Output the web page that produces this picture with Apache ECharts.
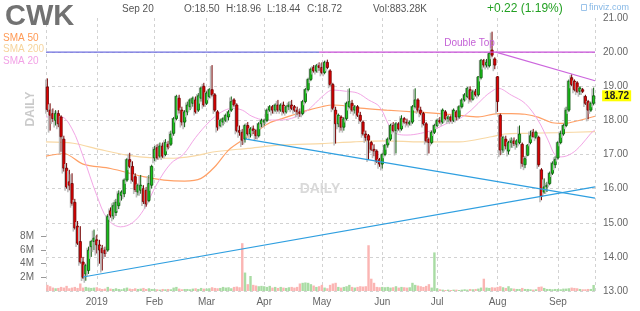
<!DOCTYPE html>
<html>
<head>
<meta charset="utf-8">
<script src="https://cdn.jsdelivr.net/npm/echarts@6/dist/echarts.min.js"></script>
<style>
  html, body { margin: 0; padding: 0; background: #ffffff; }
  #chart { width: 640px; height: 311px; }
</style>
</head>
<body>
<div id="chart"></div>
<script>
// Trading sessions, grouped by month: [year, month, days]
const sessions = [
  [2018, 12, [4,6,7,10,11,12,13,14,17,18,19,20,21,24,26,27,28,31]],
  [2019, 1, [2,3,4,7,8,9,10,11,14,15,16,17,18,22,23,24,25,28,29,30,31]],
  [2019, 2, [1,4,5,6,7,8,11,12,13,14,15,19,20,21,22,25,26,27,28]],
  [2019, 3, [1,4,5,6,7,8,11,12,13,14,15,18,19,20,21,22,25,26,27,28,29]],
  [2019, 4, [1,2,3,4,5,8,9,10,11,12,15,16,17,18,22,23,24,25,26,29,30]],
  [2019, 5, [1,2,3,6,7,8,9,10,13,14,15,16,17,20,21,22,23,24,28,29,30,31]],
  [2019, 6, [3,4,5,6,7,10,11,12,13,14,17,18,19,20,21,24,25,26,27,28]],
  [2019, 7, [1,2,3,5,8,9,10,11,12,15,16,17,18,19,22,23,24,25,26,29,30,31]],
  [2019, 8, [1,2,5,6,7,8,9,12,13,14,15,16,19,20,21,22,23,26,27,28,29,30]],
  [2019, 9, [3,4,5,6,9,10,11,12,13,16,17,18,19,20]]
];

const opens = [
  18.98,18.30,18.20,18.00,18.20,18.10,17.45,16.60,16.20,16.15,15.60,14.90,14.45,13.85,13.50,13.60,14.30,14.45,
  14.50,14.35,14.25,14.20,14.20,15.35,15.20,15.30,15.50,15.80,15.85,16.25,16.85,16.65,16.35,15.90,15.95,16.00,15.95,15.65,16.10,
  16.90,17.20,16.95,17.25,17.00,17.30,17.30,17.62,18.05,18.65,18.30,17.95,18.25,18.40,18.50,18.60,18.30,18.65,19.00,
  18.50,18.70,18.90,18.75,18.25,17.85,17.95,18.00,18.10,18.30,18.60,18.45,17.70,17.65,17.45,17.85,17.60,17.75,17.70,17.55,17.90,
  17.95,18.00,18.30,18.40,18.30,18.45,18.30,18.45,18.25,18.40,18.45,18.40,18.30,18.25,18.20,18.55,18.90,19.20,19.55,19.45,19.60,
  19.55,19.40,19.70,19.45,19.05,18.30,17.90,18.10,17.80,18.05,18.40,18.50,18.30,18.40,18.15,17.95,17.60,17.55,17.35,17.15,17.10,16.85,
  16.72,17.00,17.28,17.45,17.85,17.70,17.90,17.75,18.05,17.95,17.90,17.95,18.40,18.60,18.30,18.20,17.90,17.45,17.35,17.65,
  17.85,18.00,17.95,18.25,18.05,18.10,18.00,18.25,18.10,18.40,18.60,18.70,18.90,18.62,18.84,18.75,19.25,19.76,19.62,19.60,20.06,19.80,
  19.28,18.15,17.13,17.45,17.10,17.35,17.40,17.30,17.35,17.30,16.70,16.98,17.35,17.65,17.50,17.50,16.55,15.90,16.05,16.15,16.45,16.70,
  16.90,17.35,17.60,17.85,18.30,19.25,19.15,19.10,18.85,18.90,18.70,18.55,18.30,18.50
];
const highs = [
  19.23,18.50,18.35,18.30,18.30,18.15,17.55,16.75,16.55,16.45,15.70,15.05,14.90,14.00,13.80,14.30,14.50,14.80,
  14.65,14.50,14.35,14.30,15.25,15.45,15.60,15.70,15.95,15.95,16.30,16.90,17.05,16.80,16.45,16.15,16.40,16.10,16.05,16.40,16.70,
  17.25,17.30,17.35,17.35,17.45,17.40,17.70,18.10,18.75,18.75,18.40,18.30,18.55,18.65,18.70,18.70,18.80,19.00,19.10,
  18.85,18.95,19.62,18.80,18.30,18.05,18.10,18.20,18.30,18.70,18.65,18.50,17.85,17.75,17.90,17.95,17.80,17.85,17.75,17.95,18.05,
  18.05,18.35,18.45,18.45,18.50,18.60,18.50,18.55,18.45,18.55,18.60,18.45,18.40,18.35,18.60,18.95,19.25,19.55,19.62,19.65,19.70,
  19.70,19.75,19.78,19.50,19.10,18.40,18.20,18.15,18.10,18.55,18.94,18.60,18.45,18.45,18.25,18.00,17.70,17.60,17.40,17.30,17.15,16.90,
  17.05,17.30,17.50,17.90,17.95,17.95,17.95,18.15,18.10,18.05,18.00,18.45,18.94,18.65,18.40,18.25,17.95,17.50,17.70,17.90,
  18.05,18.10,18.35,18.30,18.15,18.15,18.35,18.30,18.45,18.65,18.80,18.98,19.00,18.90,18.92,19.30,19.80,19.80,19.80,20.00,20.60,19.85,
  19.30,18.20,17.55,17.55,17.40,17.50,17.50,17.45,17.85,17.35,16.95,17.30,17.70,17.75,17.70,17.55,16.60,16.30,16.20,16.50,16.80,16.95,
  17.40,17.70,17.90,18.40,19.20,19.35,19.20,19.15,19.00,18.95,18.75,18.60,18.55,18.96
];
const lows = [
  18.25,17.70,17.95,17.85,17.80,17.08,16.50,16.00,15.95,15.50,14.80,14.35,13.80,13.35,13.30,13.50,14.00,14.20,
  14.10,13.80,13.60,14.00,14.15,15.15,15.10,15.20,15.40,15.65,15.75,16.20,16.60,16.20,15.90,15.80,15.85,15.55,15.47,15.60,16.00,
  16.80,16.85,16.90,16.90,16.95,17.15,17.25,17.55,18.00,18.20,17.85,17.80,18.15,18.30,18.40,18.20,18.25,18.55,18.40,
  18.45,18.65,18.70,18.25,17.70,17.80,17.85,17.95,18.00,18.25,18.40,17.65,17.55,17.28,17.35,17.55,17.50,17.60,17.45,17.50,17.80,
  17.85,17.95,18.25,18.20,18.25,18.25,18.25,18.20,18.20,18.30,18.30,18.25,18.15,18.10,18.15,18.50,18.85,19.15,19.40,19.40,19.45,
  19.35,19.35,19.50,19.00,18.30,17.32,17.80,17.70,17.70,18.00,18.35,18.25,18.20,18.10,17.95,17.55,17.40,16.84,17.10,16.95,16.75,16.64,
  16.59,16.95,17.20,17.40,17.65,17.03,17.70,17.70,17.90,17.85,17.85,17.90,18.35,18.25,18.15,17.85,17.35,17.03,17.30,17.60,
  17.80,17.90,17.90,18.00,17.95,17.95,17.95,18.00,18.05,18.35,18.55,18.65,18.55,18.58,18.70,18.70,19.20,19.55,19.55,19.55,19.85,19.50,
  18.25,16.98,17.05,17.15,17.00,17.20,17.25,17.20,17.30,16.64,16.60,16.95,17.30,17.50,17.45,16.64,15.66,15.85,15.90,16.10,16.40,16.60,
  16.85,17.30,17.55,17.80,18.25,19.00,18.85,18.80,18.75,18.80,18.45,18.03,18.25,18.44
];
const closes = [
  18.32,18.15,18.05,18.20,17.90,17.52,16.60,16.05,16.10,15.57,14.85,14.40,13.85,13.40,13.75,14.20,14.45,14.55,
  14.35,14.20,14.12,14.10,15.18,15.22,15.50,15.60,15.85,15.90,16.25,16.85,16.65,16.25,15.97,16.10,16.10,15.62,15.55,16.15,16.65,
  17.15,16.90,17.25,16.95,17.35,17.22,17.60,18.05,18.70,18.30,17.95,18.25,18.45,18.60,18.65,18.25,18.72,18.95,18.45,
  18.80,18.90,18.75,18.30,17.80,18.00,18.05,18.15,18.25,18.55,18.45,17.70,17.65,17.42,17.85,17.60,17.75,17.70,17.55,17.90,18.00,
  18.00,18.30,18.40,18.30,18.45,18.30,18.45,18.25,18.40,18.45,18.35,18.30,18.25,18.20,18.55,18.90,19.20,19.50,19.45,19.60,19.55,
  19.40,19.70,19.55,19.05,18.35,17.90,18.15,17.80,18.05,18.50,18.55,18.30,18.40,18.15,18.00,17.60,17.50,17.42,17.15,17.10,16.80,16.72,
  17.00,17.28,17.45,17.85,17.70,17.90,17.75,18.05,17.95,17.92,17.95,18.40,18.60,18.30,18.20,17.90,17.40,17.35,17.65,17.85,
  18.00,17.95,18.30,18.05,18.10,18.00,18.30,18.10,18.40,18.60,18.75,18.94,18.62,18.84,18.75,19.28,19.76,19.62,19.70,19.96,19.91,19.62,
  18.55,17.13,17.50,17.25,17.35,17.40,17.32,17.40,17.60,16.74,16.88,17.28,17.55,17.52,17.65,16.70,15.78,16.05,16.10,16.45,16.74,16.85,
  17.35,17.62,17.85,18.30,19.15,19.05,18.90,18.85,18.95,18.85,18.50,18.30,18.50,18.72
];
// Daily volume, millions of shares
const volumes = [
  0.9,0.7,0.5,0.4,0.45,0.6,0.5,0.75,0.4,0.5,0.6,0.45,1.1,0.5,0.6,0.5,0.45,0.5,
  0.55,0.4,0.3,0.35,0.6,0.35,0.3,0.4,0.3,0.25,0.4,0.5,0.35,0.3,0.4,0.3,0.35,0.45,0.3,0.4,0.3,
  0.3,0.25,0.2,0.3,0.25,0.3,0.25,0.5,0.6,0.35,0.25,0.3,0.3,0.25,0.35,0.4,0.3,0.45,0.35,
  0.35,0.4,0.55,0.45,0.4,0.45,0.6,0.5,0.55,0.4,0.6,0.65,0.55,7.0,2.7,1.0,2.2,0.9,0.8,0.7,0.75,
  0.7,0.6,0.75,0.5,0.6,0.45,0.6,0.5,0.45,0.55,0.6,0.5,0.6,1.1,1.2,1.25,1.2,1.0,0.8,0.6,0.7,
  0.9,0.5,0.4,0.9,1.1,1.2,0.6,0.5,0.6,0.7,0.9,0.6,0.5,0.6,0.7,0.65,0.7,6.7,1.8,1.2,0.6,0.55,
  0.6,0.55,0.6,0.5,0.55,0.7,0.5,0.6,0.55,0.5,0.55,1.2,0.9,0.8,0.7,0.6,0.75,1.0,0.5,5.65,
  0.4,0.25,0.2,0.15,0.2,0.15,0.2,0.2,0.15,0.2,0.25,0.2,0.3,0.25,0.3,0.35,0.5,1.8,0.5,0.45,0.55,0.5,
  0.6,0.7,0.55,0.45,0.7,0.4,0.35,0.3,0.3,0.45,0.3,0.3,0.25,0.2,0.25,0.6,0.65,0.45,0.3,0.3,0.25,0.3,
  0.3,0.25,0.35,0.35,0.4,0.5,0.45,0.4,0.3,0.25,0.25,0.3,0.3,0.88328
];

// Moving averages as [session index, price]
const sma20 = [
  [-0.5,18.1],[5,18.1],[9,17.75],[13,16.95],[18,15.8],[22,15.1],[26.7,14.88],[31,15.0],[35,15.37],
  [40,16.15],[45,16.74],[49.5,17.0],[54,17.5],[59,17.96],[63.5,18.25],[67.3,18.35],[71,18.3],
  [74.5,18.12],[79.5,18.01],[84.5,18.01],[89,18.06],[94,18.25],[97.6,18.5],[100,18.69],[104,18.89],
  [109,18.85],[113,18.8],[117,18.6],[121,18.4],[126,17.67],[131,17.57],[136,17.62],[140.6,17.72],
  [145.5,17.91],[150.3,18.06],[154.4,18.3],[159.3,18.69],[161.7,18.84],[164.2,18.94],[169,18.74],
  [174,18.5],[178.7,18.01],[182.4,17.42],[185,16.98],[187.2,16.93],[191,17.03],[194.5,17.28],
  [198,17.62],[199.5,17.72]
];
const sma50 = [
  [-0.5,16.95],[6,17.03],[13,16.72],[23,16.59],[35,16.35],[42.5,16.25],[50,16.22],[56,16.3],
  [61,16.64],[66,17.13],[71,17.42],[76,17.67],[81,17.93],[85.5,18.05],[90.3,18.18],[95,18.3],
  [100,18.4],[104,18.45],[109,18.42],[114,18.36],[123.6,18.3],[133.3,18.25],[143,18.2],[150,18.15],
  [157,18.1],[164,18.2],[169,18.2],[174,18.18],[179,18.09],[184,17.93],[188.4,17.91],[193.3,17.99],
  [199.5,18.12]
];
const sma200 = [
  [-0.5,17.37],[9.4,17.33],[19,17.15],[29,16.98],[38.6,16.9],[46,16.89],[53,16.95],[61,17.08],
  [73,17.18],[85.5,17.28],[100,17.32],[111.5,17.37],[123.6,17.4],[135.7,17.37],[150,17.37],
  [161.7,17.52],[166.6,17.6],[174,17.62],[186,17.64],[199.5,17.67]
];

// Drawn pattern lines as [session index, price]
const resistanceLine = [[-0.5,20.0],[99,20.0]];
const doubleTopLine = [[99,20.0],[199.5,20.0]];
const doubleTopFall = [[163.4,20.0],[199.5,19.16]];
const channelTop = [[72,17.46],[199.5,15.72]];
const channelBottom = [[13,13.41],[199.5,16.05]];
const doubleTopNote = [153.8, 20.0];

const monthTickLabels = ['2019','Feb','Mar','Apr','May','Jun','Jul','Aug','Sep'];
const priceTicks = { min: 13, max: 21, step: 1 };
const volumeTicks = [2, 4, 6, 8];

const header = {
  symbol: 'CWK', date: 'Sep 20',
  quote: ['O:18.50', 'H:18.96', 'L:18.44', 'C:18.72'],
  volume: 'Vol:883.28K', change: '+0.22 (1.19%)', site: 'finviz.com'
};

// ---- derived tables ----
const dates = [];
sessions.forEach(([y, m, days]) => {
  days.forEach(d => dates.push(y + '-' + String(m).padStart(2, '0') + '-' + String(d).padStart(2, '0')));
});
const monthLabelAt = {};
let mk = 0;
for (let i = 1; i < dates.length; i++) {
  if (dates[i].slice(0, 7) !== dates[i - 1].slice(0, 7)) {
    monthLabelAt[i] = monthTickLabels[mk++];
  }
}
const isMonthStart = (i) => monthLabelAt[i] !== undefined;
const candles = dates.map((d, i) => [i, opens[i], highs[i], lows[i], closes[i]]);
const lastIdx = dates.length - 1;
const lastClose = closes[lastIdx];

const FONT = '"Liberation Sans", Arial, sans-serif';
const GRID_L = 46, GRID_R = 45, GRID_T = 18, GRID_B = 20;
const dash = { color: '#d2d2d2', type: [3, 3], width: 1 };

function drawCandle(params, api) {
  const idx = api.value(0);
  const o = api.value(1), h = api.value(2), l = api.value(3), c = api.value(4);
  const po = api.coord([idx, o]), pc = api.coord([idx, c]);
  const ph = api.coord([idx, h]), pl = api.coord([idx, l]);
  const cx = po[0];
  const up = c >= o;
  const top = Math.min(po[1], pc[1]);
  const hgt = Math.max(1, Math.abs(po[1] - pc[1]));
  return {
    type: 'group',
    children: [
      { type: 'rect', shape: { x: cx - 2.3, y: ph[1] + 1, width: 1.6, height: pl[1] - ph[1] + 1 },
        style: { fill: '#bcbcbc' } },
      { type: 'line', shape: { x1: cx, y1: ph[1], x2: cx, y2: pl[1] },
        style: { stroke: up ? '#0d5f0d' : '#740000', lineWidth: 1 } },
      { type: 'rect', shape: { x: cx - 1.1, y: top, width: 2.2, height: hgt },
        style: { fill: up ? '#1bcb1b' : '#e40000', stroke: up ? '#0b560b' : '#6a0000', lineWidth: 0.8 } }
    ]
  };
}

function overlay(name, data, color, width, smooth, z) {
  return {
    name, type: 'line', xAxisIndex: 1, yAxisIndex: 0, data,
    smooth: smooth, showSymbol: false, silent: true, z: z,
    lineStyle: { color, width }
  };
}

const chart = echarts.init(document.getElementById('chart'), null, { renderer: 'canvas' });

chart.setOption({
  animation: false,
  backgroundColor: '#ffffff',
  textStyle: { fontFamily: FONT },
  grid: [
    { left: GRID_L, right: GRID_R, top: GRID_T, bottom: GRID_B, outerBoundsMode: 'none' },
    { left: GRID_L, right: GRID_R, bottom: GRID_B, height: 68.3, outerBoundsMode: 'none' }
  ],
  xAxis: [
    {
      type: 'category', gridIndex: 0, data: dates, boundaryGap: true,
      axisLine: { show: false }, axisTick: { show: false },
      axisLabel: {
        interval: (i) => isMonthStart(i),
        formatter: (v, i) => monthLabelAt[i] || '',
        color: '#666', fontSize: 10, margin: 6, fontFamily: FONT
      },
      splitLine: { show: true, interval: (i) => isMonthStart(i), alignWithLabel: true, lineStyle: dash }
    },
    {
      type: 'value', gridIndex: 0, min: -0.5, max: lastIdx + 0.5, interval: lastIdx + 1,
      axisLine: { show: false }, axisTick: { show: false }, axisLabel: { show: false },
      splitLine: { show: true, lineStyle: dash }
    },
    {
      type: 'category', gridIndex: 1, data: dates, boundaryGap: true, show: false
    }
  ],
  yAxis: [
    {
      type: 'value', gridIndex: 0, position: 'right',
      min: priceTicks.min, max: priceTicks.max, interval: priceTicks.step,
      axisLine: { show: false }, axisTick: { show: false },
      axisLabel: { formatter: (v) => v.toFixed(2), color: '#666', fontSize: 10, margin: 8, fontFamily: FONT },
      splitLine: { show: true, showMaxLine: false, lineStyle: dash }
    },
    {
      type: 'value', gridIndex: 1, position: 'left', min: 0, max: 10,
      axisLine: { show: false },
      axisTick: { show: true, length: 5, customValues: volumeTicks, lineStyle: { color: '#999' } },
      axisLabel: { customValues: volumeTicks, formatter: (v) => v + 'M', color: '#666', fontSize: 10, margin: 12, fontFamily: FONT },
      splitLine: { show: false }
    }
  ],
  series: [
    {
      name: 'Volume', type: 'bar', xAxisIndex: 2, yAxisIndex: 1, data: volumes,
      barCategoryGap: '12%', silent: true, z: 1,
      itemStyle: {
        color: (p) => closes[p.dataIndex] >= opens[p.dataIndex] ? '#a9dca4' : '#fbb5b3'
      }
    },
    overlay('SMA 200', sma200, '#f8d8a4', 1.2, 0.3, 2),
    overlay('SMA 50', sma50, '#ffa066', 1.2, 0.3, 2),
    overlay('SMA 20', sma20, '#f3a6e6', 1, 0.35, 2),
    {
      name: 'CWK', type: 'custom', xAxisIndex: 0, yAxisIndex: 0, data: candles,
      encode: { x: 0, y: [1, 2, 3, 4] }, renderItem: drawCandle, z: 3, silent: true,
      markPoint: {
        silent: true, symbol: 'rect', symbolSize: 1, itemStyle: { color: 'rgba(0,0,0,0)' },
        data: [{ coord: [lastIdx, lastClose], value: lastClose }],
        label: {
          show: true, position: 'right', distance: 8,
          formatter: (p) => p.value.toFixed(2),
          backgroundColor: '#ffff00', color: '#222', fontWeight: 'bold', fontSize: 10,
          fontFamily: FONT, padding: [1, 2, 0, 2]
        }
      }
    },
    overlay('Resistance', resistanceLine, '#6f6fe0', 1.2, false, 4),
    Object.assign(overlay('Double Top', doubleTopLine, '#c74fd8', 1.2, false, 4), {
      markPoint: {
        silent: true, symbol: 'rect', symbolSize: 1, itemStyle: { color: 'rgba(0,0,0,0)' },
        data: [{ coord: doubleTopNote }],
        label: { show: true, position: 'top', distance: 3, formatter: 'Double Top',
                 color: '#c462d6', fontSize: 10, fontFamily: FONT }
      }
    }),
    overlay('Double Top slope', doubleTopFall, '#cc66dd', 1.2, false, 4),
    overlay('Channel top', channelTop, '#2f9fe0', 1.2, false, 4),
    overlay('Channel bottom', channelBottom, '#2f9fe0', 1.2, false, 4)
  ],
  graphic: {
    elements: [
      { type: 'text', left: 5, top: 2, z: 10,
        style: { text: header.symbol, font: 'bold 29px ' + FONT, fill: '#727272' } },
      { type: 'text', x: 122, y: 9, style: { text: header.date, font: '10px ' + FONT, fill: '#555', verticalAlign: 'middle' } },
      { type: 'text', x: 184, y: 9, style: { text: header.quote[0], font: '10px ' + FONT, fill: '#555', verticalAlign: 'middle' } },
      { type: 'text', x: 226, y: 9, style: { text: header.quote[1], font: '10px ' + FONT, fill: '#555', verticalAlign: 'middle' } },
      { type: 'text', x: 267, y: 9, style: { text: header.quote[2], font: '10px ' + FONT, fill: '#555', verticalAlign: 'middle' } },
      { type: 'text', x: 307, y: 9, style: { text: header.quote[3], font: '10px ' + FONT, fill: '#555', verticalAlign: 'middle' } },
      { type: 'text', x: 373, y: 9, style: { text: header.volume, font: '10px ' + FONT, fill: '#555', verticalAlign: 'middle' } },
      { type: 'text', x: 487, y: 9, style: { text: header.change, font: '12px ' + FONT, fill: '#23a023', verticalAlign: 'middle' } },
      { type: 'rect', shape: { x: 581.5, y: 4.5, width: 5, height: 6 }, style: { fill: 'none', stroke: '#9cc4ea', lineWidth: 1 } },
      { type: 'text', x: 589, y: 8, style: { text: header.site, font: '9px ' + FONT, fill: '#86b8e6', verticalAlign: 'middle' } },
      { type: 'text', x: 3, y: 38, style: { text: 'SMA 50', font: '10px ' + FONT, fill: '#ff9a55', verticalAlign: 'middle' } },
      { type: 'text', x: 3, y: 49.5, style: { text: 'SMA 200', font: '10px ' + FONT, fill: '#f6d49c', verticalAlign: 'middle' } },
      { type: 'text', x: 3, y: 61, style: { text: 'SMA 20', font: '10px ' + FONT, fill: '#f2a2e6', verticalAlign: 'middle' } },
      { type: 'text', x: 31, y: 109, rotation: Math.PI / 2,
        style: { text: 'DAILY', font: 'bold 12px ' + FONT, fill: '#cacaca', align: 'center', verticalAlign: 'middle' } },
      { type: 'text', x: 320, y: 189.5, z: -1,
        style: { text: 'DAILY', font: 'bold 14px ' + FONT, fill: '#dadada', align: 'center', verticalAlign: 'middle' } }
    ]
  }
});
</script>
</body>
</html>
